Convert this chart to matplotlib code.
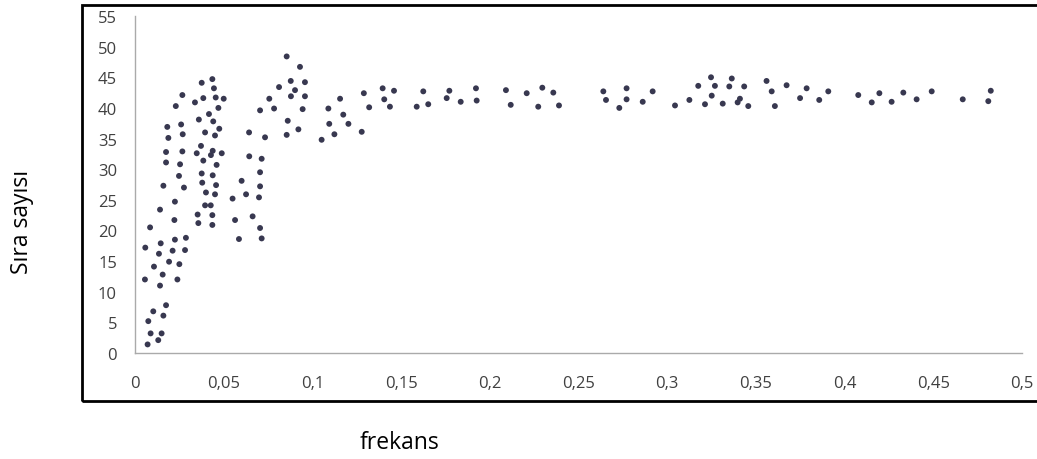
import matplotlib.pyplot as plt
from matplotlib.patches import Rectangle

# frekans / sira sayisi degerleri
frekans = [
    0.0071, 0.0131, 0.0088, 0.015, 0.0075, 0.016, 0.0103, 0.0175, 0.0141, 0.0056,
    0.0239, 0.0156, 0.0107, 0.0192, 0.025, 0.0135, 0.0212, 0.0282, 0.0058, 0.0145,
    0.0225, 0.0287, 0.0085, 0.0141, 0.0222, 0.0225, 0.016, 0.0276, 0.0248, 0.0175,
    0.0254, 0.0175, 0.0267, 0.0188, 0.0269, 0.0182, 0.026, 0.023, 0.0267,
    0.0353, 0.0357, 0.0395, 0.0427, 0.0436, 0.0436, 0.040, 0.0451, 0.0379, 0.0457,
    0.0376, 0.0438, 0.0385, 0.046, 0.0348, 0.0428, 0.0489, 0.0372, 0.0438, 0.0395,
    0.0451, 0.0475, 0.036, 0.0441, 0.0417, 0.0338, 0.047, 0.0385, 0.0455, 0.050,
    0.0376, 0.0436, 0.0445,
    0.055, 0.0564, 0.0586, 0.0626, 0.0601, 0.0663, 0.0644, 0.0643, 0.0699, 0.0705,
    0.0705, 0.0714, 0.0705, 0.0714, 0.0733, 0.0705, 0.0784, 0.0757, 0.0812, 0.0878,
    0.0855, 0.093, 0.0902, 0.0958, 0.0879, 0.0958, 0.0945, 0.0861, 0.0921, 0.0855,
    0.1052, 0.1124, 0.1095, 0.1203, 0.1174, 0.109, 0.1156, 0.1278, 0.132, 0.129,
    0.1396, 0.146, 0.1405, 0.1437, 0.1625, 0.1588, 0.1653, 0.1772, 0.1757, 0.1836,
    0.1922, 0.1926, 0.2091, 0.2118, 0.2208, 0.2296, 0.2358, 0.2273, 0.239,
    0.264, 0.2771, 0.2655, 0.2771, 0.2918, 0.273, 0.2862, 0.3044, 0.3125, 0.3175,
    0.3247, 0.3364, 0.3269, 0.335, 0.3434, 0.3251, 0.341, 0.3213, 0.3313, 0.3397,
    0.3457, 0.356, 0.3673, 0.3589, 0.3786, 0.3607, 0.3749, 0.3857, 0.3908, 0.4077,
    0.4196, 0.4153, 0.4265, 0.4331, 0.4406, 0.4491, 0.4666, 0.4824, 0.481,
]
sira = [
    1.4, 2.1, 3.2, 3.2, 5.2, 6.1, 6.8, 7.8, 11.0, 12.0,
    12.0, 12.8, 14.1, 14.9, 14.5, 16.2, 16.7, 16.8, 17.2, 17.9,
    18.5, 18.8, 20.5, 23.4, 21.7, 24.7, 27.3, 27.0, 28.9, 31.1,
    30.8, 32.8, 32.9, 35.1, 35.7, 36.9, 37.3, 40.3, 42.1,
    22.6, 21.2, 24.1, 24.1, 22.5, 20.9, 26.2, 25.9, 27.8, 27.4,
    29.3, 29.0, 31.4, 30.7, 32.6, 32.3, 32.6, 33.8, 33.0, 36.0,
    35.5, 36.6, 38.1, 37.8, 39.0, 40.9, 40.0, 41.6, 41.7, 41.5,
    44.1, 44.7, 43.2,
    25.2, 21.7, 18.6, 25.9, 28.1, 22.3, 32.1, 36.0, 25.4, 27.2,
    29.5, 31.7, 20.4, 18.7, 35.2, 39.6, 39.9, 41.5, 43.4, 44.4,
    48.4, 46.7, 42.9, 44.2, 41.9, 41.9, 39.8, 37.9, 36.5, 35.6,
    34.8, 35.7, 37.4, 37.4, 38.9, 39.9, 41.5, 36.1, 40.1, 42.4,
    43.2, 42.8, 41.4, 40.2, 42.7, 40.2, 40.6, 42.8, 41.6, 41.0,
    43.2, 41.2, 42.9, 40.5, 42.4, 43.3, 42.5, 40.2, 40.4,
    42.7, 43.2, 41.3, 41.4, 42.7, 40.0, 41.0, 40.4, 41.3, 43.6,
    45.0, 44.8, 43.6, 43.5, 43.5, 42.0, 41.5, 40.6, 40.7, 40.9,
    40.3, 44.4, 43.7, 42.7, 43.2, 40.3, 41.6, 41.3, 42.7, 42.1,
    42.4, 40.9, 41.0, 42.5, 41.4, 42.7, 41.4, 42.8, 41.1,
]

xticks = [0, 0.05, 0.1, 0.15, 0.2, 0.25, 0.3, 0.35, 0.4, 0.45, 0.5]
xlabels = ["0", "0,05", "0,1", "0,15", "0,2", "0,25", "0,3", "0,35", "0,4", "0,45", "0,5"]
yticks = list(range(0, 56, 5))

plt.rcParams['font.family'] = ['Open Sans', 'DejaVu Sans']

fig = plt.figure(figsize=(10.37, 4.6), dpi=100)

# dis cerceve
fig.patches.append(Rectangle((82/1037, (460-402)/460), 1.0, (402-6)/460,
                             transform=fig.transFigure, fill=False,
                             edgecolor='black', lw=2))

ax = fig.add_axes([135/1037, (460-354)/460, (1022-135)/1037, (354-17)/460])
ax.scatter(frekans, sira, s=18, color='#383850', edgecolors='none')

ax.set_xlim(0, 0.5)
ax.set_ylim(0, 55)
ax.set_xticks(xticks)
ax.set_xticklabels(xlabels)
ax.set_yticks(yticks)
for s in ['top', 'right']:
    ax.spines[s].set_visible(False)
for s in ['left', 'bottom']:
    ax.spines[s].set_color('#aaaaaa')
    ax.spines[s].set_linewidth(1)
ax.tick_params(axis='x', length=0, pad=16, labelsize=12, colors='#404040')
ax.tick_params(axis='y', length=0, pad=13, labelsize=12, colors='#404040')

fig.text(22/1037, 1 - 222/460, "Sıra sayısı", rotation=90, ha='center', va='center', fontsize=16.5)
fig.text(399/1037, 1 - 443/460, "frekans", ha='center', va='center', fontsize=16.5)

fig.savefig("out.png", dpi=100)
